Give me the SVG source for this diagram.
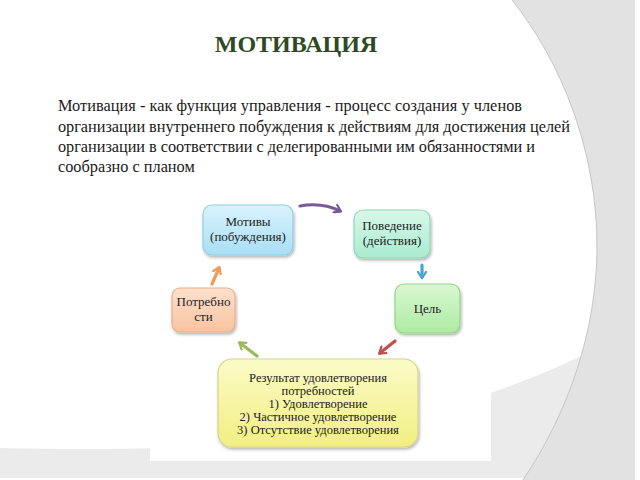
<svg xmlns="http://www.w3.org/2000/svg" width="640" height="480" viewBox="0 0 640 480">
<style>
.box{stroke-width:1.2}
.lbl{font-family:'Liberation Serif',serif;font-size:13px;fill:#222;text-anchor:middle}
.res{font-family:'Liberation Serif',serif;font-size:12.5px;fill:#222;text-anchor:middle}
.body{font-family:'Liberation Serif',serif;font-size:16.3px;fill:#1a1a1a}
.arr{fill:none;stroke-width:3.2;stroke-linecap:round}
</style>
<defs>
<filter id="sh" x="-20%" y="-20%" width="140%" height="150%">
<feDropShadow dx="1" dy="2" stdDeviation="1.6" flood-color="#000" flood-opacity="0.3"/>
</filter>
<linearGradient id="gBlue" x1="0" y1="0" x2="0" y2="1"><stop offset="0" stop-color="#d9f3fc"/><stop offset="1" stop-color="#a8dff4"/></linearGradient>
<linearGradient id="gTeal" x1="0" y1="0" x2="0" y2="1"><stop offset="0" stop-color="#d8f8ea"/><stop offset="1" stop-color="#a9ebcf"/></linearGradient>
<linearGradient id="gGreen" x1="0" y1="0" x2="0" y2="1"><stop offset="0" stop-color="#d9f8d2"/><stop offset="1" stop-color="#aeeaa2"/></linearGradient>
<linearGradient id="gOrange" x1="0" y1="0" x2="0" y2="1"><stop offset="0" stop-color="#fde0cc"/><stop offset="1" stop-color="#f7c3a0"/></linearGradient>
<linearGradient id="gYellow" x1="0" y1="0" x2="0" y2="1"><stop offset="0" stop-color="#fbfbc8"/><stop offset="1" stop-color="#f1ef80"/></linearGradient>
<marker id="mPurple" viewBox="0 0 10 10" refX="6" refY="5" markerWidth="3.2" markerHeight="3.2" orient="auto"><path d="M1,1 L7,5 L1,9" fill="none" stroke="#7a5a99" stroke-width="2.2" stroke-linecap="round" stroke-linejoin="round"/></marker>
<marker id="mBlue" viewBox="0 0 10 10" refX="6" refY="5" markerWidth="3.2" markerHeight="3.2" orient="auto"><path d="M1,1 L7,5 L1,9" fill="none" stroke="#4aa6c9" stroke-width="2.2" stroke-linecap="round" stroke-linejoin="round"/></marker>
<marker id="mRed" viewBox="0 0 10 10" refX="6" refY="5" markerWidth="3.2" markerHeight="3.2" orient="auto"><path d="M1,1 L7,5 L1,9" fill="none" stroke="#c0504d" stroke-width="2.2" stroke-linecap="round" stroke-linejoin="round"/></marker>
<marker id="mGreen" viewBox="0 0 10 10" refX="6" refY="5" markerWidth="3.2" markerHeight="3.2" orient="auto"><path d="M1,1 L7,5 L1,9" fill="none" stroke="#9bbb59" stroke-width="2.2" stroke-linecap="round" stroke-linejoin="round"/></marker>
<marker id="mOrange" viewBox="0 0 10 10" refX="6" refY="5" markerWidth="3.2" markerHeight="3.2" orient="auto"><path d="M1,1 L7,5 L1,9" fill="none" stroke="#f39a55" stroke-width="2.2" stroke-linecap="round" stroke-linejoin="round"/></marker>
</defs>
<rect width="640" height="480" fill="#ffffff"/>
<g id="background">
<path d="M0,448 C200,452 420,450 635,328 L635,478 L0,478 Z" fill="#ebebeb"/>
<path d="M512,0 C560,60 598,150 597,250 C596,330 570,410 523,480 L635,480 L635,0 Z" fill="#e2e2e2"/>
<path d="M512,0 C560,60 598,150 597,250 C596,330 570,410 523,480" fill="none" stroke="#c6c6c6" stroke-width="1"/>
<rect x="150" y="196" width="341" height="265" fill="#ffffff"/>
</g>
<g id="title">
<text x="296" y="52" font-family="Liberation Serif, serif" font-size="24" font-weight="bold" fill="#2e4a22" text-anchor="middle">МОТИВАЦИЯ</text>
</g>
<g id="description">
<text class="body" x="58" y="111" textLength="464" lengthAdjust="spacing">Мотивация - как функция управления - процесс создания у членов</text>
<text class="body" x="58" y="132" textLength="512" lengthAdjust="spacing">организации внутреннего побуждения к действиям для достижения целей</text>
<text class="body" x="58" y="152" textLength="477" lengthAdjust="spacing">организации в соответствии с делегированными им обязанностями и</text>
<text class="body" x="58" y="172">сообразно с планом</text>
</g>
<g id="connectors">
<path class="arr" d="M300,206 Q322,202 340,211" stroke="#7a5a99" marker-end="url(#mPurple)"/>
<path class="arr" d="M422,265 L422,277" stroke="#4aa6c9" marker-end="url(#mBlue)"/>
<path class="arr" d="M395,341 L380,353" stroke="#c0504d" marker-end="url(#mRed)"/>
<path class="arr" d="M257,356 L240,343" stroke="#9bbb59" marker-end="url(#mGreen)"/>
<path class="arr" d="M212,284 L219,268" stroke="#f39a55" marker-end="url(#mOrange)"/>
</g>
<g id="node-motives">
<rect class="box" x="203" y="205" width="90" height="50" rx="9" fill="url(#gBlue)" stroke="#93cfe6" filter="url(#sh)"/>
<text class="lbl" x="248" y="226">Мотивы</text>
<text class="lbl" x="248" y="241">(побуждения)</text>
</g>
<g id="node-behavior">
<rect class="box" x="354" y="210" width="76" height="48" rx="9" fill="url(#gTeal)" stroke="#8fd9b8" filter="url(#sh)"/>
<text class="lbl" x="392" y="230">Поведение</text>
<text class="lbl" x="392" y="245">(действия)</text>
</g>
<g id="node-goal">
<rect class="box" x="395" y="284" width="65" height="49" rx="9" fill="url(#gGreen)" stroke="#93d786" filter="url(#sh)"/>
<text class="lbl" x="427.5" y="313">Цель</text>
</g>
<g id="node-needs">
<rect class="box" x="172" y="288" width="63" height="44" rx="8" fill="url(#gOrange)" stroke="#eab08a" filter="url(#sh)"/>
<text class="lbl" x="203.5" y="306">Потребно</text>
<text class="lbl" x="203.5" y="321">сти</text>
</g>
<g id="node-result">
<rect class="box" x="218" y="359" width="200" height="88" rx="14" fill="url(#gYellow)" stroke="#d8d58a" filter="url(#sh)"/>
<text class="res" x="318" y="382">Результат удовлетворения</text>
<text class="res" x="318" y="395">потребностей</text>
<text class="res" x="318" y="408">1) Удовлетворение</text>
<text class="res" x="318" y="421">2) Частичное удовлетворение</text>
<text class="res" x="318" y="434">3) Отсутствие удовлетворения</text>
</g>
</svg>
